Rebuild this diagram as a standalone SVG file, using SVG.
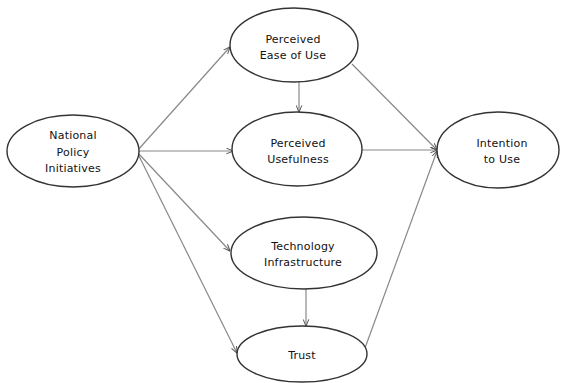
<svg xmlns="http://www.w3.org/2000/svg" width="563" height="383" viewBox="0 0 563 383">
<defs>
<style>
.node ellipse{fill:#fff;stroke:#333;stroke-width:1.4}
.node text{font-family:"DejaVu Sans","Liberation Sans",sans-serif;font-size:11px;fill:#111;text-anchor:middle;letter-spacing:0.2px}
.edge{stroke:#888;stroke-width:1.2;fill:none;marker-end:url(#arr)}
</style>
<marker id="arr" viewBox="0 0 10 10" refX="9.5" refY="5" markerWidth="7" markerHeight="7" orient="auto" markerUnits="userSpaceOnUse">
<path d="M0,1 L10,5 L0,9" fill="none" stroke="#555" stroke-width="1.4"/>
</marker>
</defs>
<rect width="563" height="383" fill="#fff"/>
<g id="connectors">
<line class="edge" x1="137" y1="151" x2="230" y2="47"/>
<line class="edge" x1="138" y1="151" x2="233" y2="151"/>
<line class="edge" x1="137" y1="152" x2="230" y2="251"/>
<line class="edge" x1="137" y1="152" x2="237" y2="353"/>
<line class="edge" x1="299" y1="82" x2="299" y2="112"/>
<line class="edge" x1="352" y1="64" x2="437" y2="150"/>
<line class="edge" x1="362" y1="150" x2="437" y2="150"/>
<line class="edge" x1="306" y1="289" x2="306" y2="326"/>
<line class="edge" x1="365" y1="348" x2="437" y2="151"/>
</g>
<g id="national" class="node">
<ellipse cx="73" cy="151" rx="66" ry="36"/>
<text x="73" y="139">National</text>
<text x="73" y="156">Policy</text>
<text x="73" y="172">Initiatives</text>
</g>
<g id="ease" class="node">
<ellipse cx="294" cy="45" rx="64" ry="37"/>
<text x="293" y="43">Perceived</text>
<text x="293" y="59">Ease of Use</text>
</g>
<g id="usefulness" class="node">
<ellipse cx="297" cy="149" rx="65" ry="37"/>
<text x="298" y="147">Perceived</text>
<text x="298" y="163">Usefulness</text>
</g>
<g id="technology" class="node">
<ellipse cx="304" cy="253" rx="73" ry="36"/>
<text x="303" y="250">Technology</text>
<text x="303" y="266">Infrastructure</text>
</g>
<g id="trust" class="node">
<ellipse cx="302" cy="354" rx="65" ry="28"/>
<text x="302" y="359">Trust</text>
</g>
<g id="intention" class="node">
<ellipse cx="498" cy="150" rx="61" ry="38"/>
<text x="502" y="147">Intention</text>
<text x="502" y="163">to Use</text>
</g>
</svg>
